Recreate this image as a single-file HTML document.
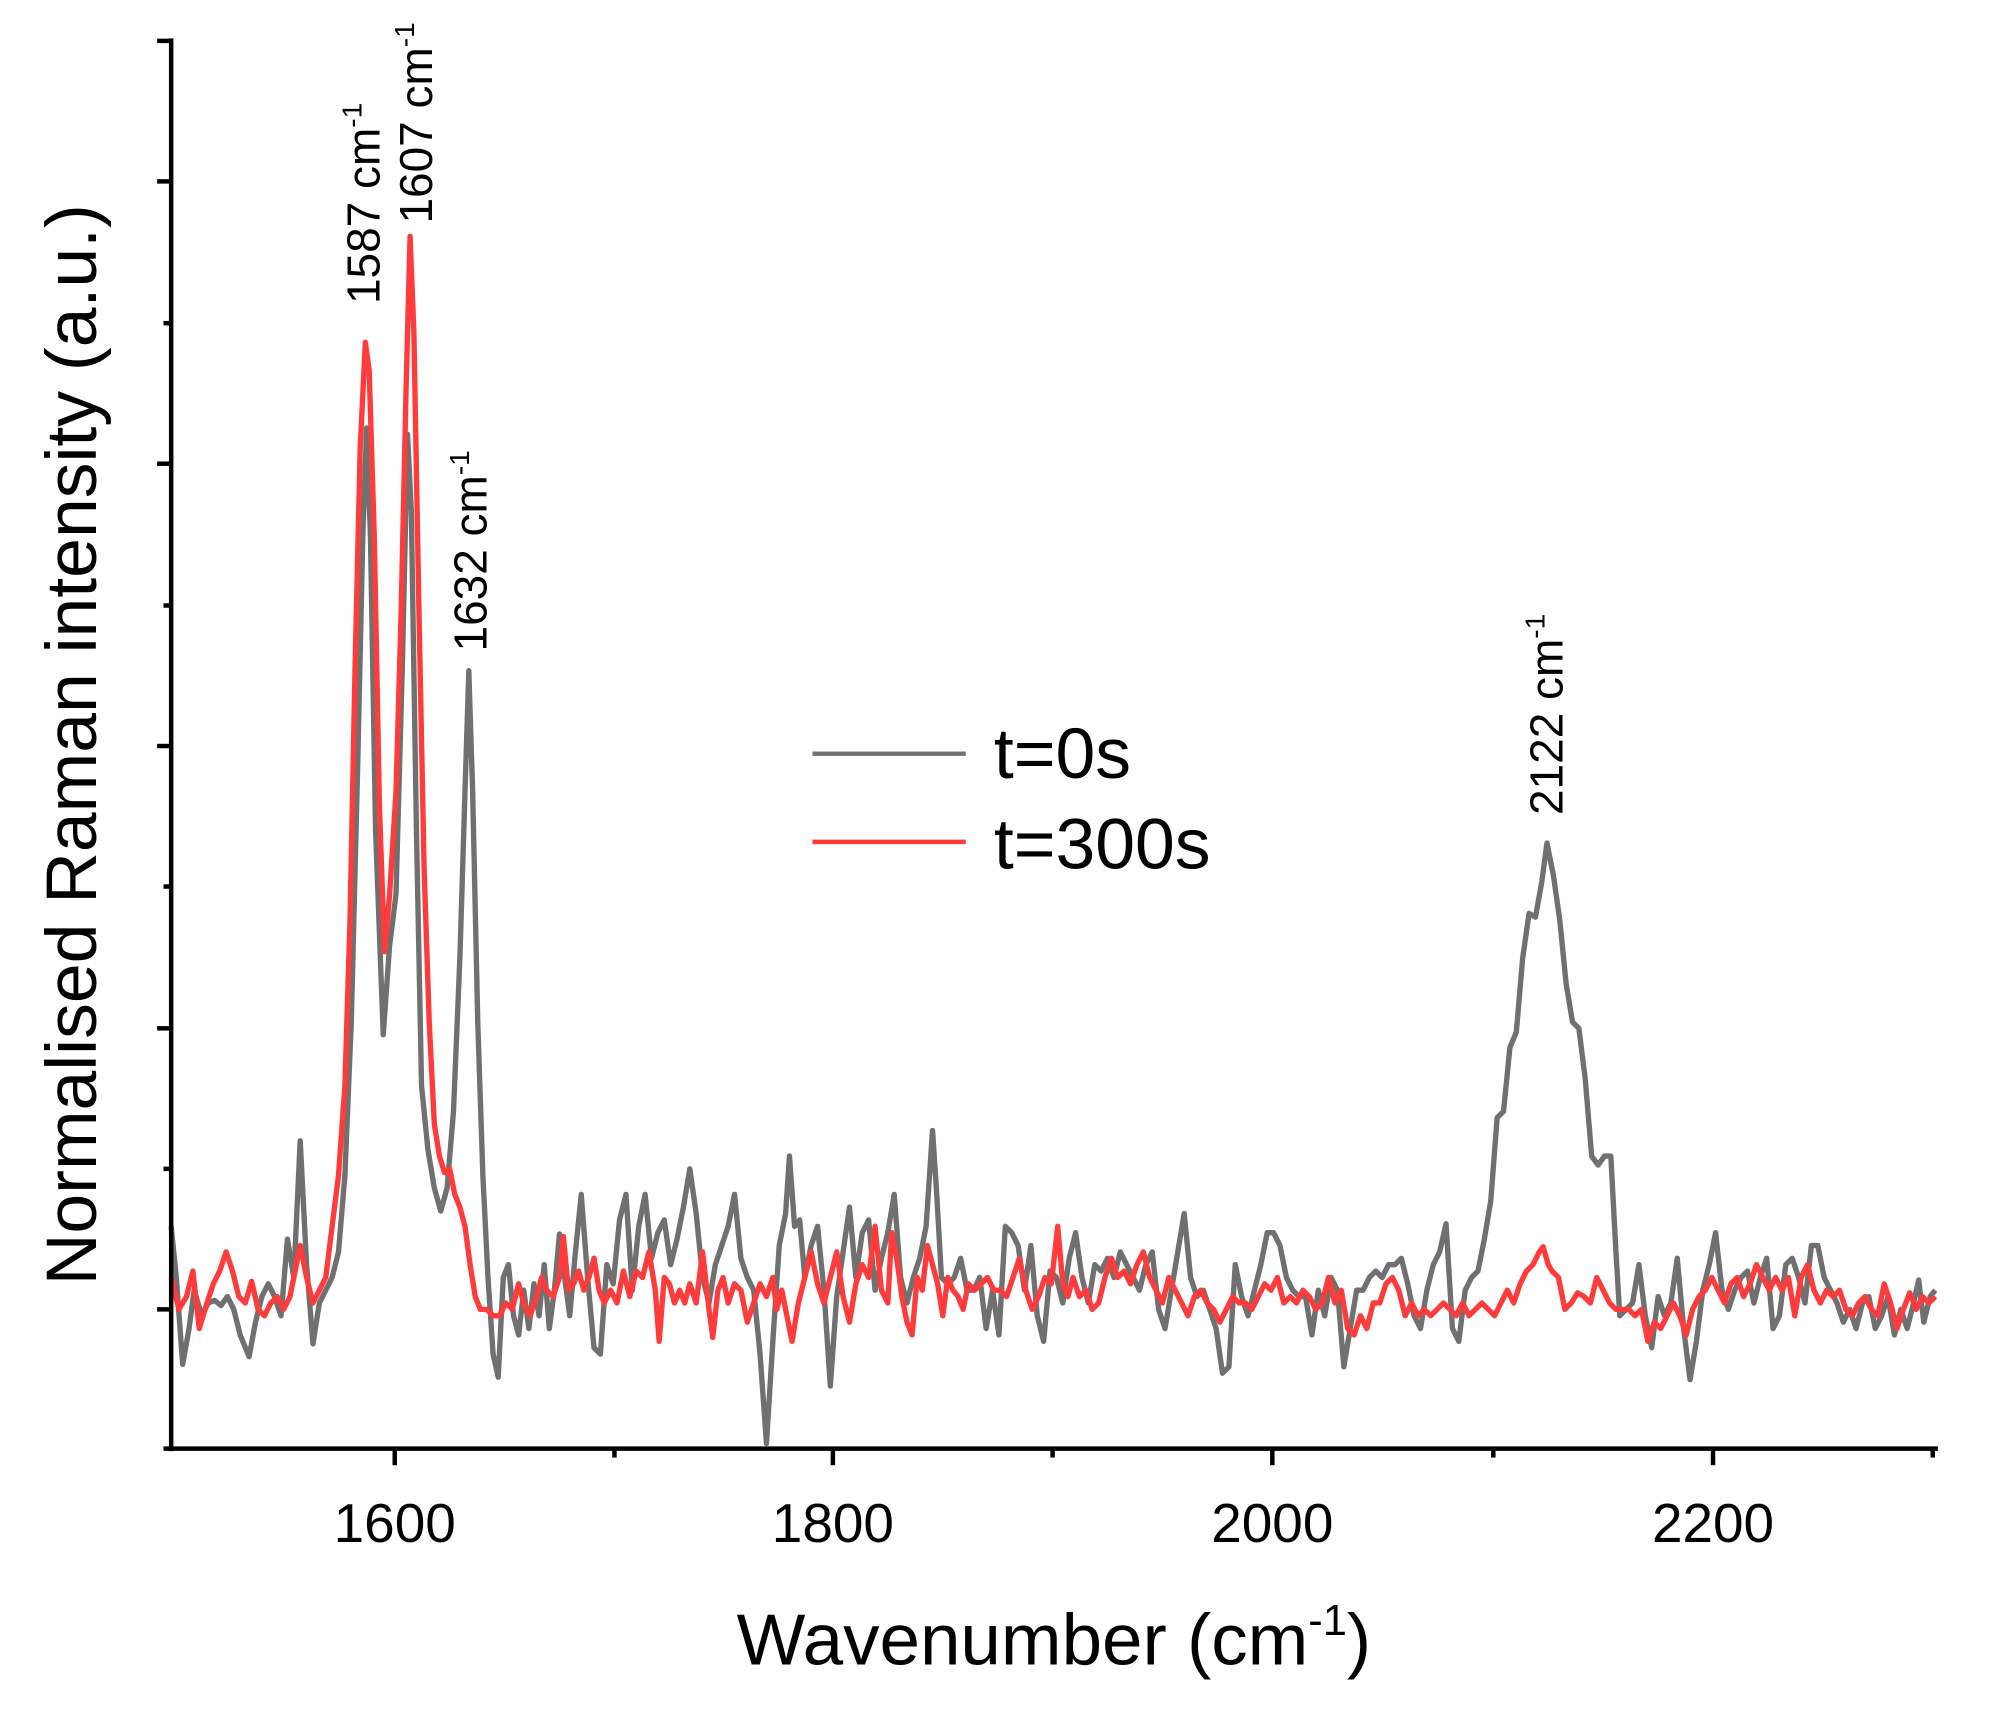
<!DOCTYPE html>
<html><head><meta charset="utf-8"><style>html,body{margin:0;padding:0;background:#fff}svg{display:block}</style></head>
<body>
<svg width="2003" height="1711" viewBox="0 0 1568 1339.4" preserveAspectRatio="none" xmlns="http://www.w3.org/2000/svg" font-family="Liberation Sans, Arial, sans-serif">
<rect width="1568" height="1340" fill="#fff"/>
<polyline fill="none" stroke="#707070" stroke-width="4.2" stroke-linejoin="round" points="134,960 138,1000 143,1068 148,1040 152,1010 158,1030 163,1020 168,1018 173,1022 178,1015 183,1025 188,1045 195,1062 200,1035 205,1015 210,1005 215,1015 220,1030 225,970 230,1000 235,893 240,990 245,1052 250,1020 255,1010 260,1000 265,980 270,920 275,800 280,600 284,420 287,335 290,420 294,650 300,810 305,740 310,700 315,520 319,340 322,400 326,650 330,850 335,900 340,930 345,948 350,930 355,870 360,750 364,620 367,525 370,620 374,800 378,920 382,1000 386,1060 390,1078 394,1000 398,990 402,1030 406,1045 410,1010 414,1040 418,1005 422,1030 426,990 430,1040 434,1010 438,966 442,1000 446,1030 450,985 455,935 460,1000 465,1055 470,1060 475,990 480,1005 485,955 490,935 495,1010 500,960 505,935 510,985 515,965 520,955 525,990 530,970 535,945 540,915 545,950 550,1000 555,1020 560,990 565,975 570,960 575,935 580,985 585,1000 590,1010 595,1060 600,1130 605,1050 610,975 615,950 618,905 622,960 626,955 630,1000 635,975 640,960 645,1010 650,1085 655,1015 660,980 665,945 670,1000 675,965 680,955 685,1010 690,985 695,965 700,935 705,1000 710,1020 715,1000 720,985 725,960 730,885 733,930 737,1000 742,1005 747,1000 752,985 757,1010 762,1010 767,1000 772,1040 777,1010 782,1045 787,960 792,965 797,975 802,1010 807,975 812,1030 817,1050 822,995 827,1000 832,1020 837,985 842,965 847,1000 852,1020 857,990 862,995 867,985 872,1000 877,980 882,990 887,1000 892,1010 897,990 902,980 907,1025 912,1040 917,1010 922,980 927,950 932,1000 937,1015 942,1010 947,1025 952,1040 957,1075 962,1070 967,990 972,1015 977,1030 982,1010 987,990 992,965 997,965 1002,975 1007,1000 1012,1010 1017,1015 1022,1015 1027,1045 1032,1010 1037,1030 1042,1000 1047,1010 1052,1070 1057,1040 1062,1010 1067,1010 1072,1000 1077,995 1082,1000 1087,990 1092,990 1097,985 1102,1005 1107,1030 1112,1040 1117,1010 1122,990 1127,980 1132,958 1137,1040 1142,1050 1147,1010 1152,1000 1157,995 1162,970 1167,940 1172,875 1177,870 1182,820 1187,808 1192,750 1197,715 1202,718 1207,690 1211,660 1216,685 1221,720 1226,770 1231,800 1236,805 1241,845 1246,905 1251,912 1256,905 1261,905 1265,980 1268,1030 1273,1025 1278,1020 1283,990 1288,1030 1293,1055 1298,1015 1303,1030 1308,1020 1313,985 1318,1040 1323,1080 1328,1050 1333,1010 1338,990 1343,965 1348,1010 1353,1025 1358,1010 1363,1000 1368,995 1373,1020 1378,1000 1383,985 1388,1040 1393,1030 1398,990 1403,985 1408,1000 1413,1020 1418,975 1423,975 1428,1000 1433,1010 1438,1020 1443,1035 1448,1025 1453,1040 1458,1020 1463,1015 1468,1040 1473,1030 1478,1015 1483,1045 1488,1025 1493,1040 1498,1020 1502,1002 1506,1035 1511,1015 1515,1010"/>
<polyline fill="none" stroke="#ff3b3b" stroke-width="4.2" stroke-linejoin="round" points="134,1000 140,1025 146,1015 151,995 156,1040 162,1020 167,1005 172,995 177,980 182,995 187,1015 192,1020 197,1003 202,1025 207,1030 212,1020 217,1015 222,1025 227,1015 232,990 235,975 240,1000 245,1020 250,1010 255,1000 260,960 265,920 270,850 274,720 278,520 282,350 286,268 289,290 293,420 297,630 301,745 305,700 310,620 314,480 318,300 321,185 324,260 328,480 332,680 336,800 340,880 344,905 348,918 352,915 356,935 360,945 364,960 368,990 372,1015 376,1025 381,1025 386,1030 391,1030 396,1020 401,1025 406,1005 410,1020 415,1030 420,1015 424,1000 428,1010 433,1015 438,1000 441,968 445,1010 449,1005 453,995 457,1010 461,1000 465,985 469,1010 473,1020 478,1010 483,1020 488,995 493,1015 498,995 503,1000 508,980 513,1010 516,1050 520,1000 524,1005 528,1020 532,1010 536,1020 540,1005 545,1020 550,980 555,1025 558,1047 562,1010 566,1000 570,1020 575,1005 580,1010 585,1035 590,1020 595,1005 600,1015 605,1000 608,1025 612,1010 616,1030 620,1050 625,1020 630,1000 635,980 640,1005 645,1020 650,1000 655,980 660,1015 665,1035 670,1005 675,990 680,1000 685,960 690,1010 695,1020 698,965 702,985 706,1015 710,1035 714,1045 718,1000 722,1010 726,975 730,990 734,1005 738,1030 742,1000 746,1010 750,1015 754,1025 758,1005 763,1010 768,1005 773,1000 778,1010 783,1010 788,1015 793,1000 798,985 803,1010 808,1025 813,1015 818,1000 823,1005 828,960 832,1005 836,1015 840,1000 845,1015 850,1010 855,1025 860,1020 865,1000 870,985 875,1000 880,995 885,1005 890,990 895,980 900,1000 905,1010 910,1020 915,1000 920,1010 925,1020 930,1030 935,1015 940,1010 945,1020 950,1025 955,1035 960,1025 965,1015 970,1020 975,1020 980,1025 985,1015 990,1005 995,1010 1000,1000 1005,1020 1010,1015 1015,1020 1020,1010 1025,1015 1030,1025 1035,1020 1040,1000 1045,1020 1050,1010 1055,1040 1060,1045 1065,1030 1070,1040 1075,1020 1080,1020 1085,1005 1090,1000 1095,1010 1100,1030 1105,1020 1110,1030 1115,1025 1120,1030 1125,1025 1130,1020 1135,1025 1140,1030 1145,1020 1150,1030 1155,1025 1160,1020 1165,1025 1170,1030 1175,1020 1180,1010 1185,1020 1190,1005 1195,995 1200,990 1205,980 1208,976 1212,990 1215,995 1220,1000 1225,1025 1230,1020 1235,1012 1240,1015 1245,1020 1250,1000 1255,1010 1260,1020 1265,1025 1270,1025 1275,1025 1280,1030 1285,1025 1290,1050 1295,1035 1300,1040 1305,1030 1310,1020 1315,1030 1320,1045 1325,1025 1330,1015 1335,1010 1340,1000 1345,1010 1350,1020 1355,1005 1360,1000 1365,1015 1370,1005 1375,990 1380,1000 1385,1010 1390,1000 1395,1010 1400,1000 1405,1030 1410,1000 1415,990 1420,1010 1425,1020 1430,1010 1435,1015 1440,1010 1445,1025 1450,1030 1455,1020 1460,1015 1465,1025 1470,1030 1475,1005 1480,1020 1485,1040 1490,1025 1495,1012 1500,1025 1505,1015 1510,1020 1515,1015"/>
<g stroke="#000" stroke-width="3.5">
<line x1="134" y1="30" x2="134" y2="1136"/>
<line x1="132" y1="1134" x2="1517" y2="1134"/>
<line x1="123" y1="32" x2="134" y2="32"/><line x1="123" y1="142" x2="134" y2="142"/><line x1="123" y1="363" x2="134" y2="363"/><line x1="123" y1="584" x2="134" y2="584"/><line x1="123" y1="805" x2="134" y2="805"/><line x1="123" y1="1025" x2="134" y2="1025"/>
<line x1="128" y1="253" x2="134" y2="253"/><line x1="128" y1="474" x2="134" y2="474"/><line x1="128" y1="694" x2="134" y2="694"/><line x1="128" y1="915" x2="134" y2="915"/><line x1="128" y1="1134" x2="134" y2="1134"/>
<line x1="309" y1="1134" x2="309" y2="1147"/><line x1="652" y1="1134" x2="652" y2="1147"/><line x1="996" y1="1134" x2="996" y2="1147"/><line x1="1341" y1="1134" x2="1341" y2="1147"/>
<line x1="481" y1="1134" x2="481" y2="1141"/><line x1="824" y1="1134" x2="824" y2="1141"/><line x1="1169" y1="1134" x2="1169" y2="1141"/><line x1="1513" y1="1134" x2="1513" y2="1141"/>
</g>
<g font-size="43" text-anchor="middle" fill="#000">
<text x="309" y="1207">1600</text><text x="652" y="1207">1800</text><text x="996" y="1207">2000</text><text x="1341" y="1207">2200</text>
</g>
<text x="825" y="1303" font-size="57" text-anchor="middle">Wavenumber (cm<tspan font-size="34" dy="-23">-1</tspan><tspan dy="23">)</tspan></text>
<text transform="translate(75,583) rotate(-90)" font-size="56" text-anchor="middle">Normalised Raman intensity (a.u.)</text>
<g font-size="36">
<text transform="translate(297,238) rotate(-90)">1587 cm<tspan font-size="22" dy="-14">-1</tspan></text>
<text transform="translate(338,175) rotate(-90)">1607 cm<tspan font-size="22" dy="-14">-1</tspan></text>
<text transform="translate(381,510) rotate(-90)">1632 cm<tspan font-size="22" dy="-14">-1</tspan></text>
<text transform="translate(1223,638) rotate(-90)">2122 cm<tspan font-size="22" dy="-14">-1</tspan></text>
</g>
<line x1="636" y1="590" x2="756" y2="590" stroke="#707070" stroke-width="3.5"/>
<line x1="636" y1="659" x2="756" y2="659" stroke="#ff3b3b" stroke-width="3.5"/>
<text x="778" y="609" font-size="56">t=0s</text>
<text x="778" y="680" font-size="56">t=300s</text>
</svg>
</body></html>
